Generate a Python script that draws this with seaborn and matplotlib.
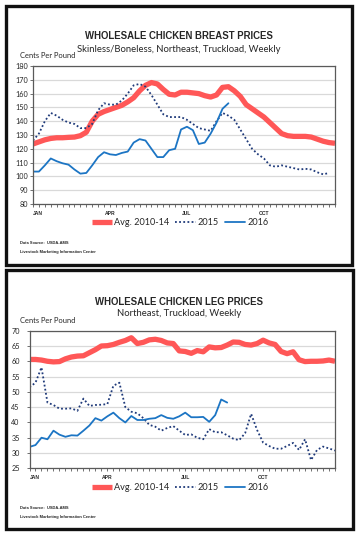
import numpy as np
import pandas as pd
import matplotlib
matplotlib.use("Agg")
import matplotlib.pyplot as plt
import seaborn as sns
from matplotlib.patches import Rectangle
from matplotlib.ticker import MultipleLocator, FixedLocator

sns.set_theme(style="white")
plt.rcParams['font.family'] = ['Lato', 'DejaVu Sans']

# ---------------- data ----------------
month_labels = ["JAN", "APR", "JUL", "OCT"]
month_weeks = [0, 13, 26, 39]
series_names = ["Avg. 2010-14", "2015", "2016"]

breast_avg = [123.5, 125, 126.5, 127.5, 128, 128, 128.3, 128.5, 129.5, 132,
              140, 145, 147, 148.5, 150, 151.5, 154, 157, 162, 166,
              168, 167, 163, 159.5, 159, 161, 161, 160.5, 160, 158.5,
              157.5, 159, 164.5, 165, 162, 158, 152, 149, 146, 143,
              139, 135, 131, 129.5, 129, 129, 129, 128.5, 127, 125.5,
              124.5, 124]
breast_2015 = [126, 131, 140, 146, 144, 141, 139, 138, 135, 135,
               138, 148, 153, 152, 152, 155, 160, 166, 167, 165,
               159, 152, 145, 143, 143, 143, 141, 138, 135, 134,
               133, 140, 146, 144, 141, 134, 127, 120, 116, 113,
               108, 107, 108, 107, 106, 105, 105.5, 105, 103, 101.5,
               102.5]
breast_2016 = [103.5, 103.5, 108, 113, 111, 109.5, 108.5, 105, 102, 102.5,
               108, 114, 117.5, 116, 115.5, 117, 118, 124.5, 127, 126,
               120, 114, 114, 119, 120, 134, 136, 133.5, 123.5, 124.5,
               131, 139, 149, 153]

leg_avg = [60.6, 60.6, 60.4, 60, 59.8, 59.9, 60.8, 61.4, 61.7, 61.8,
           62.8, 63.8, 65, 65.1, 65.5, 66.2, 66.8, 67.7, 65.8, 66.2,
           67, 67.2, 66.8, 66, 65.8, 63.4, 63.2, 62.6, 63.5, 63.1,
           64.7, 64.4, 64.5, 65.3, 66.3, 66.2, 65.5, 65.3, 65.8, 66.9,
           66, 65.5, 63.2, 62.5, 63.1, 60.5, 59.9, 60, 60, 60.1,
           60.4, 60]
leg_2015 = [51.5, 53, 58, 46.5, 45.7, 44.5, 44.5, 44.6, 43.8, 47.8,
            45.4, 45.7, 45.8, 46, 52, 53, 45, 43.5, 43, 41.4,
            39.2, 38.6, 37.3, 38.2, 38.8, 37.3, 35.9, 36.1, 35, 34.5,
            37.8, 36.8, 36.8, 35.8, 34.7, 34.2, 36.5, 42.8, 37.5, 33.4,
            32.3, 31.4, 31.4, 32.3, 33.3, 31, 34.5, 27.7, 31, 32.1,
            31.5, 30.8]
leg_2016 = [32, 32.6, 35, 34.5, 37.3, 36, 35.3, 35.8, 35.7, 37.3,
            39, 41.4, 40.6, 42, 43.2, 41.4, 40, 42.1, 40.8, 40.8,
            41.2, 41.4, 42.4, 41.5, 41.2, 42, 43.2, 41.7, 41.7, 41.8,
            40.2, 42.4, 47.5, 46.5]

# ---------------- figure ----------------
W, H = 361, 539
DPI = 100
fig = plt.figure(figsize=(W / DPI, H / DPI), dpi=DPI)
fig.patch.set_facecolor("white")

RED = "#FF5757"
NAVY = "#1F3A7A"
BLUE = "#1C75C4"
GRID = "#D9D9D9"
FRAME = "#5A5A5A"


def fx(px):
    return px / W


def fy(py):
    return 1 - py / H


def panel(top, bottom, left, right):
    fig.patches.append(Rectangle((fx(left), fy(bottom)), fx(right - left), (bottom - top) / H,
                                 transform=fig.transFigure, fill=False,
                                 edgecolor="#111111", linewidth=2.4, zorder=10))


def make_chart(ax_rect, avg, y15, y16, ylim, ystep, ypad):
    l, t, r, b = ax_rect
    ax = fig.add_axes([fx(l), fy(b), fx(r - l), (b - t) / H])
    df_avg = pd.DataFrame({"week": np.arange(len(avg)), "val": avg})
    df_15 = pd.DataFrame({"week": np.arange(len(y15)), "val": y15})
    df_16 = pd.DataFrame({"week": np.arange(len(y16)), "val": y16})
    sns.lineplot(data=df_avg, x="week", y="val", ax=ax, color=RED, linewidth=3.8,
                 solid_capstyle="butt", label=series_names[0])
    sns.lineplot(data=df_15, x="week", y="val", ax=ax, color=NAVY, linewidth=1.3,
                 linestyle=(0, (1, 1.3)), label=series_names[1])
    sns.lineplot(data=df_16, x="week", y="val", ax=ax, color=BLUE, linewidth=1.3,
                 label=series_names[2])
    ax.set_xlim(0, 51)
    ax.set_ylim(*ylim)
    ax.yaxis.set_major_locator(MultipleLocator(ystep))
    ax.grid(axis="y", color=GRID, linewidth=0.9)
    ax.set_axisbelow(True)
    for s in ax.spines.values():
        s.set_color(FRAME)
        s.set_linewidth(0.9)
    ax.set_xlabel("")
    ax.set_ylabel("")
    ax.xaxis.set_major_locator(FixedLocator(month_weeks))
    ax.set_xticklabels(month_labels, fontsize=3.6, fontweight="bold",
                       family=["Liberation Sans", "DejaVu Sans"])
    ax.xaxis.set_minor_locator(MultipleLocator(1))
    ax.tick_params(axis="x", which="both", direction="out", length=2.2, width=0.6,
                   color=FRAME, pad=2.5, bottom=True)
    ax.tick_params(axis="y", which="major", direction="out", length=2.0, width=0.6,
                   color=FRAME, pad=ypad, left=True, labelsize=5.2)
    for lab in ax.get_xticklabels()[:1]:
        lab.set_horizontalalignment("left")
    ax.legend_.remove()
    return ax


# ---------------- top chart ----------------
panel(6, 264.5, 5.5, 352)
ax1 = make_chart((33, 66, 335, 204), breast_avg, breast_2015, breast_2016,
                 (80, 180), 10, 1.5)
fig.text(fx(179), fy(36), "WHOLESALE CHICKEN BREAST PRICES", ha="center", va="center",
         fontsize=6.9, fontweight="bold", family=["Liberation Sans", "DejaVu Sans"])
fig.text(fx(179), fy(49), "Skinless/Boneless, Northeast, Truckload, Weekly", ha="center",
         va="center", fontsize=6.8)
fig.text(fx(20), fy(56), "Cents Per Pound", ha="left", va="center", fontsize=5.4)
h, lb = ax1.get_legend_handles_labels()
fig.legend(h, lb, loc="center", bbox_to_anchor=(fx(180), fy(222.5)), ncol=3,
           frameon=False, fontsize=6.6, handlelength=2.2, handletextpad=0.2,
           columnspacing=0.7, borderpad=0)
fig.text(fx(20), fy(243), "Data Source:  USDA-AMS", ha="left", va="center",
         fontsize=2.9, fontweight="bold", family=["Liberation Sans", "DejaVu Sans"])
fig.text(fx(20), fy(252), "Livestock Marketing Information Center", ha="left", va="center",
         fontsize=2.9, fontweight="bold", family=["Liberation Sans", "DejaVu Sans"])

# ---------------- bottom chart ----------------
panel(270, 529, 5.5, 352.5)
ax2 = make_chart((29.5, 330.7, 335, 468.3), leg_avg, leg_2015, leg_2016,
                 (25, 70), 5, 5)
fig.text(fx(179), fy(301.7), "WHOLESALE CHICKEN LEG PRICES", ha="center", va="center",
         fontsize=6.9, fontweight="bold", family=["Liberation Sans", "DejaVu Sans"])
fig.text(fx(179), fy(313.5), "Northeast, Truckload, Weekly", ha="center",
         va="center", fontsize=6.8)
fig.text(fx(20), fy(320.5), "Cents Per Pound", ha="left", va="center", fontsize=5.4)
h, lb = ax2.get_legend_handles_labels()
fig.legend(h, lb, loc="center", bbox_to_anchor=(fx(180), fy(487.7)), ncol=3,
           frameon=False, fontsize=6.6, handlelength=2.2, handletextpad=0.2,
           columnspacing=0.7, borderpad=0)
fig.text(fx(20), fy(507.7), "Data Source:  USDA-AMS", ha="left", va="center",
         fontsize=2.9, fontweight="bold", family=["Liberation Sans", "DejaVu Sans"])
fig.text(fx(20), fy(516.7), "Livestock Marketing Information Center", ha="left", va="center",
         fontsize=2.9, fontweight="bold", family=["Liberation Sans", "DejaVu Sans"])

fig.savefig("out.png", dpi=DPI, facecolor="white")
